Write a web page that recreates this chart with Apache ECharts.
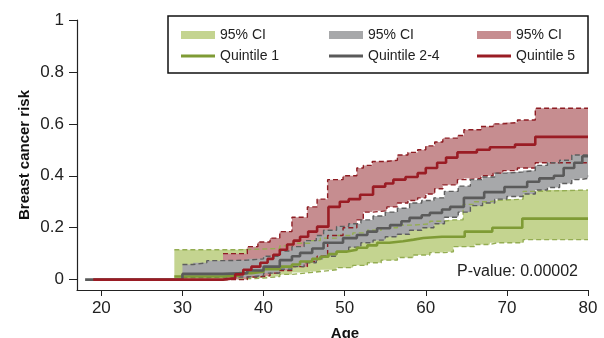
<!DOCTYPE html>
<html>
<head>
<meta charset="utf-8">
<script src="https://cdn.jsdelivr.net/npm/echarts@6/dist/echarts.min.js"></script>
<style>
  html, body { margin: 0; padding: 0; background: #fff; }
  #chart { width: 604px; height: 338px; }
</style>
</head>
<body>
<div id="chart"></div>
<script>
// tick labels
const xTicks = [20, 30, 40, 50, 60, 70, 80]
const yTicks = [0, 0.2, 0.4, 0.6, 0.8, 1]

// Quintile 1 (green)
const q1Age = [29, 35, 37, 38.5, 40, 42, 43.5, 44.5, 46, 47, 48, 49, 50.3, 51.5, 52.8, 54, 55.5, 57.2, 58.5, 59.7, 62, 64.8, 68.2, 71.9, 80]
const q1Risk = [0.012, 0.015, 0.025, 0.03, 0.04, 0.05, 0.058, 0.07, 0.08, 0.088, 0.098, 0.108, 0.115, 0.123, 0.132, 0.142, 0.148, 0.154, 0.16, 0.165, 0.165, 0.185, 0.2, 0.235, 0.235]
const q1CiAge = [29, 35, 37, 40, 42, 43.5, 45.7, 47, 49, 51, 52.8, 54.5, 56.5, 58.5, 60.5, 62.3, 63.4, 64.6, 66, 67.9, 68.8, 72, 73.7, 80]
const q1Lower = [0, 0.002, 0.006, 0.012, 0.02, 0.027, 0.031, 0.038, 0.046, 0.055, 0.065, 0.075, 0.085, 0.095, 0.104, 0.107, 0.127, 0.127, 0.135, 0.142, 0.142, 0.154, 0.154, 0.154]
const q1Upper = [0.115, 0.115, 0.118, 0.12, 0.13, 0.14, 0.15, 0.16, 0.17, 0.18, 0.19, 0.2, 0.21, 0.215, 0.225, 0.23, 0.23, 0.29, 0.3, 0.305, 0.31, 0.34, 0.345, 0.345]

// Quintile 2-4 (grey)
const q24Age = [18, 30, 35, 38, 40, 42, 43.5, 44.5, 46, 47.4, 49.8, 51.5, 52.8, 54, 55.6, 57, 58, 59.5, 60.5, 62, 63, 64.7, 67.2, 69.7, 72.5, 74, 75.8, 77, 78.3, 79.3, 80]
const q24Risk = [0, 0.022, 0.025, 0.035, 0.05, 0.075, 0.09, 0.103, 0.12, 0.142, 0.16, 0.172, 0.185, 0.198, 0.21, 0.225, 0.238, 0.248, 0.257, 0.27, 0.28, 0.315, 0.337, 0.357, 0.377, 0.39, 0.4, 0.43, 0.45, 0.475, 0.475]
const q24CiAge = [30, 31.3, 33, 35, 38, 40, 42, 43.5, 45, 46.5, 47.4, 49, 50.5, 52, 53.5, 55, 56.5, 58, 59.5, 61, 62.3, 64, 65.5, 67, 68.5, 70, 72, 73.5, 75, 76.5, 78, 79, 80]
const q24Lower = [0.008, 0.008, 0.01, 0.01, 0.015, 0.025, 0.04, 0.05, 0.065, 0.08, 0.09, 0.108, 0.125, 0.142, 0.152, 0.165, 0.175, 0.19, 0.2, 0.215, 0.24, 0.26, 0.285, 0.295, 0.31, 0.32, 0.33, 0.345, 0.355, 0.37, 0.385, 0.39, 0.4]
const q24Upper = [0.058, 0.065, 0.073, 0.075, 0.08, 0.09, 0.11, 0.127, 0.15, 0.17, 0.19, 0.205, 0.215, 0.23, 0.245, 0.26, 0.275, 0.295, 0.305, 0.315, 0.34, 0.36, 0.385, 0.395, 0.41, 0.415, 0.42, 0.44, 0.45, 0.46, 0.48, 0.48, 0.48]

// Quintile 5 (red)
const q5Age = [19, 35, 36.5, 37.5, 38.5, 39.6, 40.5, 41.2, 42, 42.9, 43.7, 44.5, 45.5, 46.6, 48, 49.4, 50.5, 51.9, 53.5, 55, 56, 57.5, 59, 60, 61.4, 62.5, 63.9, 66.3, 67.9, 71, 73.5, 80]
const q5Risk = [0, 0.005, 0.02, 0.038, 0.05, 0.065, 0.08, 0.096, 0.115, 0.135, 0.15, 0.165, 0.185, 0.204, 0.28, 0.3, 0.31, 0.327, 0.358, 0.37, 0.385, 0.395, 0.41, 0.43, 0.45, 0.47, 0.49, 0.5, 0.51, 0.52, 0.55, 0.55]
const q5CiAge = [35, 38, 39.3, 40.8, 42, 43.5, 45.4, 46.6, 47.9, 49.8, 51.5, 52.3, 53.4, 55.2, 56.5, 57.8, 59, 60, 61.1, 62.1, 63.9, 64.7, 66.8, 68.3, 69.5, 71.3, 73.5, 80]
const q5Lower = [0, 0.01, 0.015, 0.025, 0.035, 0.05, 0.07, 0.09, 0.17, 0.2, 0.23, 0.26, 0.265, 0.28, 0.295, 0.305, 0.315, 0.33, 0.35, 0.365, 0.385, 0.39, 0.4, 0.41, 0.42, 0.43, 0.45, 0.45]
const q5Upper = [0.1, 0.127, 0.145, 0.16, 0.185, 0.24, 0.28, 0.31, 0.385, 0.4, 0.43, 0.44, 0.455, 0.46, 0.48, 0.49, 0.5, 0.515, 0.53, 0.545, 0.555, 0.577, 0.59, 0.6, 0.605, 0.615, 0.66, 0.66]

const FONT = "'Liberation Sans', Arial, sans-serif"
const colors = {
  q1: { line: '#7f9b35', fill: '#c4d490', dash: '#94ad52' },
  q24: { line: '#5a5a5a', fill: '#a7a8aa', dash: '#5e5e5e' },
  q5: { line: '#9a1c24', fill: '#c68d90', dash: '#8e1d23' }
}

const pairs = (xs, ys) => xs.map((x, i) => [x, ys[i]])

// step-shaped CI band as one polygon, placed through the axes
const band = (id, ages, lower, upper, c) => {
  const n = ages.length
  const nextX = i => (i < n - 1 ? ages[i + 1] : ages[i])
  return [
    {
      name: '95% CI',
      type: 'custom',
      data: ages.map((a, i) => [a, lower[i], upper[i]]),
      encode: { x: 0, y: [1, 2] },
      renderItem: (params, api) => {
        if (params.dataIndex !== 0) return
        const pts = []
        for (let i = 0; i < n; i++) {
          pts.push(api.coord([ages[i], upper[i]]), api.coord([nextX(i), upper[i]]))
        }
        for (let i = n - 1; i >= 0; i--) {
          pts.push(api.coord([nextX(i), lower[i]]), api.coord([ages[i], lower[i]]))
        }
        return { type: 'polygon', shape: { points: pts }, style: { fill: c.fill } }
      }
    },
    {
      name: 'lower ' + id,
      type: 'line',
      step: 'end',
      symbol: 'none',
      data: pairs(ages, lower),
      lineStyle: { color: c.dash, width: 1.4, type: [5, 3] }
    },
    {
      name: 'upper ' + id,
      type: 'line',
      step: 'end',
      symbol: 'none',
      data: pairs(ages, upper),
      lineStyle: { color: c.dash, width: 1.4, type: [5, 3] }
    }
  ]
}

const curve = (name, ages, risk, c) => ({
  name,
  type: 'line',
  step: 'end',
  symbol: 'none',
  data: pairs(ages, risk),
  lineStyle: { color: c.line, width: 2.6 },
  z: 5
})

const legendCols = [
  { left: 181, c: colors.q1, name: 'Quintile 1' },
  { left: 329, c: colors.q24, name: 'Quintile 2-4' },
  { left: 477, c: colors.q5, name: 'Quintile 5' }
]
const legendStyle = { fontFamily: FONT, fontSize: 14, color: '#222', lineHeight: 16 }
const legends = []
legendCols.forEach(col => {
  legends.push({
    left: col.left, top: 27, padding: 0, itemWidth: 34, itemHeight: 8, itemGap: 8,
    selectedMode: false, textStyle: legendStyle,
    data: [{ name: '95% CI', icon: 'rect', itemStyle: { color: col.c.fill, borderWidth: 0 } }]
  })
  legends.push({
    left: col.left, top: 48, padding: 0, itemWidth: 34, itemHeight: 3, itemGap: 8,
    selectedMode: false, textStyle: legendStyle,
    data: [{ name: col.name, icon: 'rect', itemStyle: { color: col.c.line, borderWidth: 0 } }]
  })
})

const chart = echarts.init(document.getElementById('chart'))
chart.setOption({
  animation: false,
  grid: { left: 77, right: 16, top: 20, bottom: 48, containLabel: false, outerBoundsMode: 'none' },
  legend: legends,
  graphic: [
    {
      type: 'rect',
      shape: { x: 168, y: 16, width: 420, height: 57 },
      style: { fill: '#fff', stroke: '#111', lineWidth: 1.5 },
      z: -1
    },
    {
      type: 'text',
      x: 578, y: 272,
      style: { text: 'P-value: 0.00002', fontFamily: FONT, fontSize: 16, fill: '#222', align: 'right', verticalAlign: 'middle' }
    }
  ],
  xAxis: {
    type: 'value',
    min: 17,
    max: 80,
    name: 'Age',
    nameLocation: 'middle',
    nameGap: 36,
    nameMoveOverlap: false,
    nameTextStyle: { fontFamily: FONT, fontSize: 15, fontWeight: 'bold', color: '#111', padding: [0, 0, 0, 25] },
    axisLine: { onZero: false, lineStyle: { color: '#222', width: 1.2 } },
    axisTick: { customValues: xTicks, length: 6, lineStyle: { color: '#222' } },
    axisLabel: { customValues: xTicks, margin: 10, fontFamily: FONT, fontSize: 17, color: '#222' },
    splitLine: { show: false }
  },
  yAxis: {
    type: 'value',
    min: -0.04,
    max: 1,
    name: 'Breast cancer risk',
    nameLocation: 'middle',
    nameGap: 45,
    nameMoveOverlap: false,
    nameTextStyle: { fontFamily: FONT, fontSize: 15, fontWeight: 'bold', color: '#111' },
    axisLine: { show: true, onZero: false, lineStyle: { color: '#222', width: 1.2 } },
    axisTick: { show: true, customValues: yTicks, length: 8, lineStyle: { color: '#222' } },
    axisLabel: { customValues: yTicks, margin: 13, fontFamily: FONT, fontSize: 17, color: '#222' },
    splitLine: { show: false }
  },
  series: [
    ...band('q1', q1CiAge, q1Lower, q1Upper, colors.q1),
    ...band('q5', q5CiAge, q5Lower, q5Upper, colors.q5),
    ...band('q24', q24CiAge, q24Lower, q24Upper, colors.q24),
    curve('Quintile 1', q1Age, q1Risk, colors.q1),
    curve('Quintile 2-4', q24Age, q24Risk, colors.q24),
    curve('Quintile 5', q5Age, q5Risk, colors.q5)
  ]
})
</script>
</body>
</html>
